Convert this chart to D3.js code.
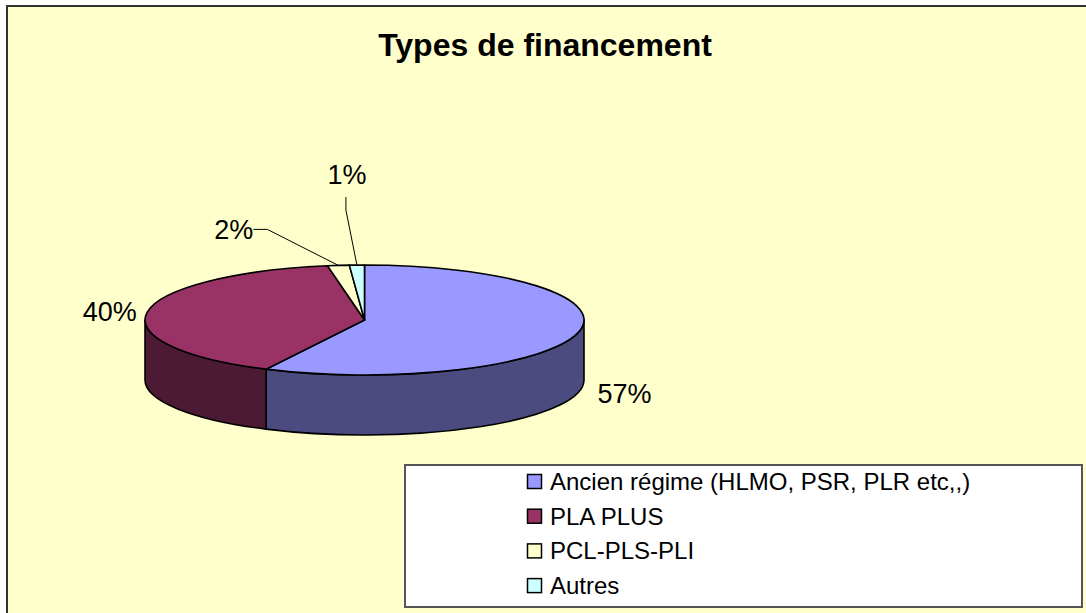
<!DOCTYPE html>
<html>
<head>
<meta charset="utf-8">
<script src="https://cdn.jsdelivr.net/npm/d3@7"></script>
<style>
  html, body { margin: 0; padding: 0; background: #ffffff; }
  svg { display: block; }
  text { font-family: "Liberation Sans", Arial, sans-serif; }
</style>
</head>
<body>
<svg id="chart" width="1086" height="613"></svg>
<script>
// ---- data ----
const categories = ["Ancien régime (HLMO, PSR, PLR etc,,)", "PLA PLUS", "PCL-PLS-PLI", "Autres"];
const values = [57.4, 39.9, 1.6, 1.1];
const percentLabels = ["57%", "40%", "2%", "1%"];
const title = "Types de financement";

// ---- style / layout ----
const topColors  = ["#9999FF", "#993366", "#FFFFCC", "#CCFFFF"];
const sideColors = ["#4B4B7F", "#4D1A33", "#80806A", "#6A8080"];
const W = 1086, H = 613;
const cx = 364.5, cy = 320, rx = 219.5, ry = 55, depth = 60;

const svg = d3.select("#chart");

// chart frame
svg.append("rect")
  .attr("x", 7).attr("y", 6)
  .attr("width", W + 20).attr("height", H + 20)
  .attr("fill", "#FFFFCC")
  .attr("stroke", "#333333").attr("stroke-width", 2);

// title
svg.append("text")
  .attr("x", 545).attr("y", 56)
  .attr("text-anchor", "middle")
  .attr("font-size", 32).attr("font-weight", "bold")
  .attr("fill", "#000")
  .text(title);

// pie layout (d3 angles: 0 at 12 o'clock, clockwise)
const pie = d3.pie().sort(null).value(d => d)(values);

const px = a => cx + rx * Math.sin(a);
const py = a => cy - ry * Math.cos(a);

// side faces (front half only: angles PI/2 .. 3PI/2)
const sideG = svg.append("g");
pie.forEach((s, i) => {
  const a0 = Math.max(s.startAngle, Math.PI / 2);
  const a1 = Math.min(s.endAngle, 3 * Math.PI / 2);
  if (a1 <= a0) return;
  const large = (a1 - a0) > Math.PI ? 1 : 0;
  const d = `M${px(a0)},${py(a0)} A${rx},${ry} 0 ${large} 1 ${px(a1)},${py(a1)} ` +
            `L${px(a1)},${py(a1) + depth} A${rx},${ry} 0 ${large} 0 ${px(a0)},${py(a0) + depth} Z`;
  sideG.append("path")
    .attr("d", d)
    .attr("fill", sideColors[i])
    .attr("stroke", "#000").attr("stroke-width", 1.6)
    .attr("stroke-linejoin", "round");
});

// top faces
const topG = svg.append("g");
pie.forEach((s, i) => {
  const a0 = s.startAngle, a1 = s.endAngle;
  const large = (a1 - a0) > Math.PI ? 1 : 0;
  const d = `M${cx},${cy} L${px(a0)},${py(a0)} A${rx},${ry} 0 ${large} 1 ${px(a1)},${py(a1)} Z`;
  topG.append("path")
    .attr("d", d)
    .attr("fill", topColors[i])
    .attr("stroke", "#000").attr("stroke-width", 1.6)
    .attr("stroke-linejoin", "round");
});

// percentage labels
const labelG = svg.append("g").attr("font-size", 27).attr("fill", "#000");
pie.forEach((s, i) => {
  const mid = (s.startAngle + s.endAngle) / 2;
  const ax = px(mid), ay = py(mid);
  const frontDrop = Math.cos(mid) < 0 ? depth : 0;
  const share = (s.endAngle - s.startAngle) / (2 * Math.PI);
  if (share > 0.05) {
    // large slices: label beside the pie, outside the rim
    const k = 1.07;
    const lx = cx + rx * k * Math.sin(mid) + 4.5;
    const ly = cy - ry * k * Math.cos(mid) + frontDrop + 9.5;
    labelG.append("text")
      .attr("x", lx).attr("y", ly)
      .attr("text-anchor", Math.sin(mid) >= 0 ? "start" : "end")
      .text(percentLabels[i]);
  } else {
    // small slices: leader lines
    const leader = svg.append("path")
      .attr("fill", "none").attr("stroke", "#000").attr("stroke-width", 1);
    if (i === 2) {
      const ex = ax - 71, ey = ay - 36;
      leader.attr("d", `M${ax},${ay} L${ex},${ey} L${ex - 14},${ey}`);
      labelG.append("text")
        .attr("x", ex - 14).attr("y", ey + 9.5)
        .attr("text-anchor", "end")
        .text(percentLabels[i]);
    } else {
      const ex = ax - 11, ey = ay - 55, tx = ax - 11, ty = ay - 68;
      leader.attr("d", `M${ax},${ay} L${ex},${ey} L${tx},${ty}`);
      labelG.append("text")
        .attr("x", tx + 1).attr("y", ty - 13)
        .attr("text-anchor", "middle")
        .text(percentLabels[i]);
    }
  }
});

// legend
const lg = svg.append("g");
lg.append("rect")
  .attr("x", 405).attr("y", 465)
  .attr("width", 677).attr("height", 142)
  .attr("fill", "#FFFFFF")
  .attr("stroke", "#555555").attr("stroke-width", 2);

const rowY = d3.scalePoint().domain(categories).range([481.5, 585.6]);
categories.forEach((c, i) => {
  const y = rowY(c);
  lg.append("rect")
    .attr("x", 527.5).attr("y", y - 7)
    .attr("width", 14).attr("height", 14)
    .attr("fill", topColors[i])
    .attr("stroke", "#000").attr("stroke-width", 1.5);
  lg.append("text")
    .attr("x", 550).attr("y", y + 8.5)
    .attr("font-size", 24)
    .attr("fill", "#000")
    .text(c);
});
</script>
</body>
</html>
